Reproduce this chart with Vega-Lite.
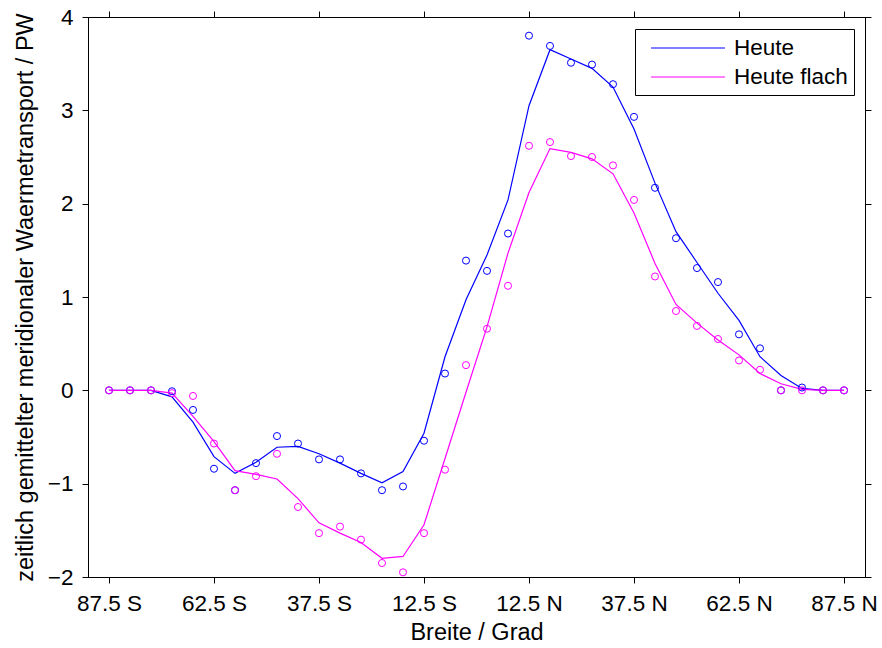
{
  "$schema": "https://vega.github.io/schema/vega-lite/v6.json",
  "width": 777,
  "height": 560,
  "autosize": "none",
  "padding": {"left": 88, "top": 17, "right": 17, "bottom": 71},
  "background": "white",
  "config": {
    "font": "Liberation Sans",
    "view": {"stroke": "black", "strokeWidth": 1},
    "axis": {
      "grid": false,
      "domainColor": "black",
      "tickColor": "black",
      "labelColor": "black",
      "titleColor": "black",
      "labelFont": "Liberation Sans",
      "titleFont": "Liberation Sans",
      "labelFontSize": 22.5,
      "titleFontSize": 23.5,
      "titleFontWeight": "normal",
      "tickSize": 6,
      "domainWidth": 1,
      "tickWidth": 1
    }
  },
  "data": {
    "values": [
      {"series": "Heute", "lat": -87.5, "line": 0, "obs": 0},
      {"series": "Heute", "lat": -82.5, "line": 0, "obs": 0},
      {"series": "Heute", "lat": -77.5, "line": 0, "obs": 0},
      {"series": "Heute", "lat": -72.5, "line": -0.07, "obs": -0.01},
      {"series": "Heute", "lat": -67.5, "line": -0.34, "obs": -0.21},
      {"series": "Heute", "lat": -62.5, "line": -0.71, "obs": -0.84},
      {"series": "Heute", "lat": -57.5, "line": -0.89, "obs": -1.07},
      {"series": "Heute", "lat": -52.5, "line": -0.77, "obs": -0.78},
      {"series": "Heute", "lat": -47.5, "line": -0.61, "obs": -0.49},
      {"series": "Heute", "lat": -42.5, "line": -0.6, "obs": -0.57},
      {"series": "Heute", "lat": -37.5, "line": -0.68, "obs": -0.74},
      {"series": "Heute", "lat": -32.5, "line": -0.78, "obs": -0.74},
      {"series": "Heute", "lat": -27.5, "line": -0.89, "obs": -0.89},
      {"series": "Heute", "lat": -22.5, "line": -0.99, "obs": -1.07},
      {"series": "Heute", "lat": -17.5, "line": -0.87, "obs": -1.03},
      {"series": "Heute", "lat": -12.5, "line": -0.46, "obs": -0.54},
      {"series": "Heute", "lat": -7.5, "line": 0.36, "obs": 0.18},
      {"series": "Heute", "lat": -2.5, "line": 0.97, "obs": 1.39},
      {"series": "Heute", "lat": 2.5, "line": 1.45, "obs": 1.28},
      {"series": "Heute", "lat": 7.5, "line": 2.04, "obs": 1.68},
      {"series": "Heute", "lat": 12.5, "line": 3.05, "obs": 3.8},
      {"series": "Heute", "lat": 17.5, "line": 3.65, "obs": 3.69},
      {"series": "Heute", "lat": 22.5, "line": 3.55, "obs": 3.51},
      {"series": "Heute", "lat": 27.5, "line": 3.45, "obs": 3.49},
      {"series": "Heute", "lat": 32.5, "line": 3.25, "obs": 3.28},
      {"series": "Heute", "lat": 37.5, "line": 2.8, "obs": 2.93},
      {"series": "Heute", "lat": 42.5, "line": 2.22, "obs": 2.17},
      {"series": "Heute", "lat": 47.5, "line": 1.7, "obs": 1.63},
      {"series": "Heute", "lat": 52.5, "line": 1.37, "obs": 1.31},
      {"series": "Heute", "lat": 57.5, "line": 1.04, "obs": 1.16},
      {"series": "Heute", "lat": 62.5, "line": 0.75, "obs": 0.6},
      {"series": "Heute", "lat": 67.5, "line": 0.36, "obs": 0.45},
      {"series": "Heute", "lat": 72.5, "line": 0.16, "obs": 0.0},
      {"series": "Heute", "lat": 77.5, "line": 0.02, "obs": 0.03},
      {"series": "Heute", "lat": 82.5, "line": 0, "obs": 0},
      {"series": "Heute", "lat": 87.5, "line": 0, "obs": 0},
      {"series": "Heute flach", "lat": -87.5, "line": 0, "obs": 0},
      {"series": "Heute flach", "lat": -82.5, "line": 0, "obs": 0},
      {"series": "Heute flach", "lat": -77.5, "line": 0, "obs": 0},
      {"series": "Heute flach", "lat": -72.5, "line": -0.03, "obs": -0.03},
      {"series": "Heute flach", "lat": -67.5, "line": -0.28, "obs": -0.06},
      {"series": "Heute flach", "lat": -62.5, "line": -0.55, "obs": -0.57},
      {"series": "Heute flach", "lat": -57.5, "line": -0.86, "obs": -1.07},
      {"series": "Heute flach", "lat": -52.5, "line": -0.9, "obs": -0.92},
      {"series": "Heute flach", "lat": -47.5, "line": -0.95, "obs": -0.68},
      {"series": "Heute flach", "lat": -42.5, "line": -1.16, "obs": -1.25},
      {"series": "Heute flach", "lat": -37.5, "line": -1.42, "obs": -1.53},
      {"series": "Heute flach", "lat": -32.5, "line": -1.53, "obs": -1.46},
      {"series": "Heute flach", "lat": -27.5, "line": -1.63, "obs": -1.6},
      {"series": "Heute flach", "lat": -22.5, "line": -1.8, "obs": -1.85},
      {"series": "Heute flach", "lat": -17.5, "line": -1.78, "obs": -1.95},
      {"series": "Heute flach", "lat": -12.5, "line": -1.44, "obs": -1.53},
      {"series": "Heute flach", "lat": -7.5, "line": -0.73, "obs": -0.85},
      {"series": "Heute flach", "lat": -2.5, "line": -0.02, "obs": 0.27},
      {"series": "Heute flach", "lat": 2.5, "line": 0.68, "obs": 0.66},
      {"series": "Heute flach", "lat": 7.5, "line": 1.47, "obs": 1.12},
      {"series": "Heute flach", "lat": 12.5, "line": 2.12, "obs": 2.62},
      {"series": "Heute flach", "lat": 17.5, "line": 2.59, "obs": 2.66},
      {"series": "Heute flach", "lat": 22.5, "line": 2.55, "obs": 2.51},
      {"series": "Heute flach", "lat": 27.5, "line": 2.48, "obs": 2.5},
      {"series": "Heute flach", "lat": 32.5, "line": 2.32, "obs": 2.41},
      {"series": "Heute flach", "lat": 37.5, "line": 1.9, "obs": 2.04},
      {"series": "Heute flach", "lat": 42.5, "line": 1.36, "obs": 1.22},
      {"series": "Heute flach", "lat": 47.5, "line": 0.92, "obs": 0.85},
      {"series": "Heute flach", "lat": 52.5, "line": 0.72, "obs": 0.69},
      {"series": "Heute flach", "lat": 57.5, "line": 0.54, "obs": 0.55},
      {"series": "Heute flach", "lat": 62.5, "line": 0.38, "obs": 0.32},
      {"series": "Heute flach", "lat": 67.5, "line": 0.18, "obs": 0.22},
      {"series": "Heute flach", "lat": 72.5, "line": 0.07, "obs": 0.0},
      {"series": "Heute flach", "lat": 77.5, "line": 0.01, "obs": 0.0},
      {"series": "Heute flach", "lat": 82.5, "line": 0, "obs": 0},
      {"series": "Heute flach", "lat": 87.5, "line": 0, "obs": 0}
    ]
  },
  "resolve": {"axis": {"x": "independent", "y": "independent"}},
  "layer": [
    {
      "mark": {"type": "line", "strokeWidth": 1.2, "clip": true},
      "encoding": {
        "x": {
          "field": "lat", "type": "quantitative",
          "scale": {"domain": [-92.5, 92.5], "nice": false, "zero": false},
          "axis": {
            "orient": "bottom",
            "values": [-87.5, -62.5, -37.5, -12.5, 12.5, 37.5, 62.5, 87.5],
            "labelExpr": "abs(datum.value) + (datum.value < 0 ? ' S' : ' N')",
            "labelPadding": 9,
            "labelFlush": false,
            "title": "Breite / Grad",
            "titlePadding": 6
          }
        },
        "y": {
          "field": "line", "type": "quantitative",
          "scale": {"domain": [-2, 4], "nice": false, "zero": false},
          "axis": {
            "orient": "left",
            "values": [-2, -1, 0, 1, 2, 3, 4],
            "labelPadding": 9,
            "labelFlush": false,
            "title": "zeitlich gemittelter meridionaler Waermetransport / PW",
            "titlePadding": 10
          }
        },
        "color": {
          "field": "series", "type": "nominal",
          "scale": {"domain": ["Heute", "Heute flach"], "range": ["#0000ff", "#ff00ff"]},
          "legend": {
            "title": null,
            "orient": "none",
            "legendX": 547,
            "legendY": 12,
            "direction": "vertical",
            "symbolType": "M-3.08,0H3.08",
            "symbolSize": 576,
            "symbolStrokeWidth": 1.2,
            "symbolFillColor": "transparent",
            "symbolOffset": 34,
            "padding": 6,
            "rowPadding": 4,
            "labelOffset": 33,
            "labelFontSize": 22.5,
            "labelFont": "Liberation Sans",
            "labelColor": "black",
            "strokeColor": "black",
            "fillColor": "white",
            "labelLimit": 300
          }
        }
      }
    },
    {
      "mark": {"type": "point", "filled": false, "size": 50, "strokeWidth": 1, "opacity": 1},
      "encoding": {
        "x": {
          "field": "lat", "type": "quantitative",
          "axis": {"orient": "top", "values": [-87.5, -62.5, -37.5, -12.5, 12.5, 37.5, 62.5, 87.5], "labels": false, "title": null}
        },
        "y": {
          "field": "obs", "type": "quantitative",
          "axis": {"orient": "right", "values": [-2, -1, 0, 1, 2, 3, 4], "labels": false, "title": null}
        },
        "stroke": {
          "field": "series", "type": "nominal",
          "scale": {"domain": ["Heute", "Heute flach"], "range": ["#0000ff", "#ff00ff"]},
          "legend": null
        }
      }
    }
  ]
}
